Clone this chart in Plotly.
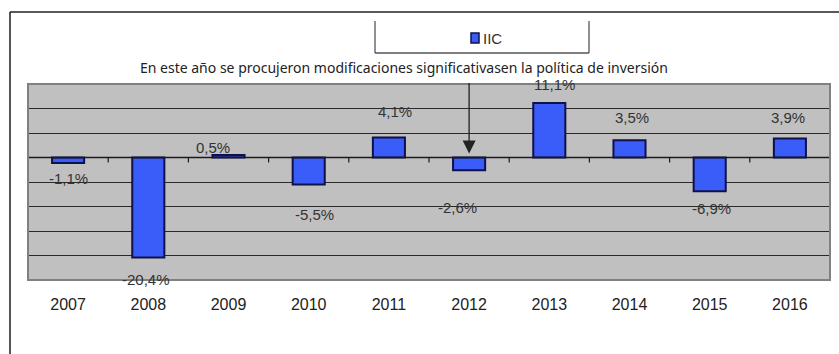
import plotly.graph_objects as go

# Annual return of the IIC fund, percent
years = ["2007", "2008", "2009", "2010", "2011", "2012", "2013", "2014", "2015", "2016"]
returns = [-1.1, -20.4, 0.5, -5.5, 4.1, -2.6, 11.1, 3.5, -6.9, 3.9]
series_name = "IIC"
note_text = "En este año se procujeron modificaciones significativasen la política de inversión"
note_year = "2012"

# Pixel nudges for each value label (x right, y up) relative to the bar end
label_dx = [0, -2, -16, 6, 6, -12, 5, 2, 2, -2]
label_dy = [-16, -22, 8, -30, 26, -37, 19, 23, -17, 21]

W, H = 839, 354
L, R, T, B = 28, 830, 84, 280  # plot area in pixels


def px(x):
    return (x - L) / (R - L)


def py(y):
    return (B - y) / (B - T)


BAR_BLUE = "#3a5cf8"
BAR_EDGE = "#10104a"
LABEL_FONT = dict(family="Liberation Sans, Arial", size=15, color="#333333")

fig = go.Figure()
fig.add_trace(go.Bar(
    x=years, y=returns, name=series_name, width=0.4,
    marker=dict(color=BAR_BLUE, line=dict(color=BAR_EDGE, width=2)),
    showlegend=False, hoverinfo="x+y",
))

annotations = []
# Value labels; category axes take the category position index
for i, (v, dx, dy) in enumerate(zip(returns, label_dx, label_dy)):
    annotations.append(dict(
        x=i, y=v, xref="x", yref="y", showarrow=False,
        xanchor="center", yanchor="middle",
        text=f"{v:.1f}%".replace(".", ","), xshift=dx, yshift=dy,
        font=LABEL_FONT,
    ))

# Explanatory note with arrow pointing to the year of the change
annotations.append(dict(
    x=px(404), y=py(68), xref="paper", yref="paper", showarrow=False,
    xanchor="center", yanchor="middle",
    text=note_text, font=dict(family="Noto Sans", size=14, color="#222222"),
))
annotations.append(dict(
    x=years.index(note_year), y=0, xref="x", yref="y", showarrow=True,
    ax=0, ay=-76, arrowhead=2, arrowsize=2.0, arrowwidth=1.3,
    arrowcolor="#222222", standoff=4, text="",
))

# Legend entry drawn by hand
annotations.append(dict(
    x=px(481), y=py(38), xref="paper", yref="paper", showarrow=False,
    xanchor="left", yanchor="middle", text=series_name, font=LABEL_FONT,
))

shapes = []
# Zero axis line with category boundary ticks
shapes.append(dict(type="line", xref="paper", yref="y", x0=0, x1=1, y0=0, y1=0,
                   line=dict(color="#1a1a1a", width=1.5)))
for i in range(len(years) - 1):
    shapes.append(dict(type="line", xref="x", yref="y", x0=i + 0.5, x1=i + 0.5,
                       y0=0, y1=-1.0, line=dict(color="#1a1a1a", width=1.2)))
# Plot area border
shapes.append(dict(type="rect", xref="paper", yref="paper", x0=0, x1=1, y0=0, y1=1,
                   line=dict(color="#808080", width=2)))
# Chart frame (left and top edges)
shapes.append(dict(type="line", xref="paper", yref="paper", x0=px(10), x1=px(10),
                   y0=py(12), y1=py(360), line=dict(color="#555555", width=2)))
shapes.append(dict(type="line", xref="paper", yref="paper", x0=px(10), x1=px(845),
                   y0=py(12), y1=py(12), line=dict(color="#222222", width=1.5)))
# Legend box
for (x0, y0, x1, y1) in [(375, 21, 375, 53), (589, 21, 589, 53), (375, 53, 589, 53)]:
    shapes.append(dict(type="line", xref="paper", yref="paper", x0=px(x0), x1=px(x1),
                       y0=py(y0), y1=py(y1), line=dict(color="#555555", width=1.3)))
shapes.append(dict(type="rect", xref="paper", yref="paper", x0=px(471), x1=px(479),
                   y0=py(43), y1=py(33), fillcolor=BAR_BLUE,
                   line=dict(color=BAR_EDGE, width=1.5)))

fig.update_layout(
    width=W, height=H,
    margin=dict(l=L, r=W - R, t=T, b=H - B, pad=0),
    paper_bgcolor="white", plot_bgcolor="#c0c0c0",
    bargap=0.6,
    xaxis=dict(type="category", categoryarray=years, range=[-0.5, len(years) - 0.5],
               showgrid=False, zeroline=False, showline=False,
               ticks="outside", ticklen=10, tickcolor="rgba(0,0,0,0)",
               tickfont=dict(family="Liberation Sans, Arial", size=16, color="#222222")),
    yaxis=dict(range=[-25, 15], dtick=5, tick0=0, showticklabels=False,
               showgrid=True, gridcolor="#2a2a2a", gridwidth=1.2,
               zeroline=False, showline=False),
    annotations=annotations, shapes=shapes,
    showlegend=False,
)

fig.write_html("out.html")
